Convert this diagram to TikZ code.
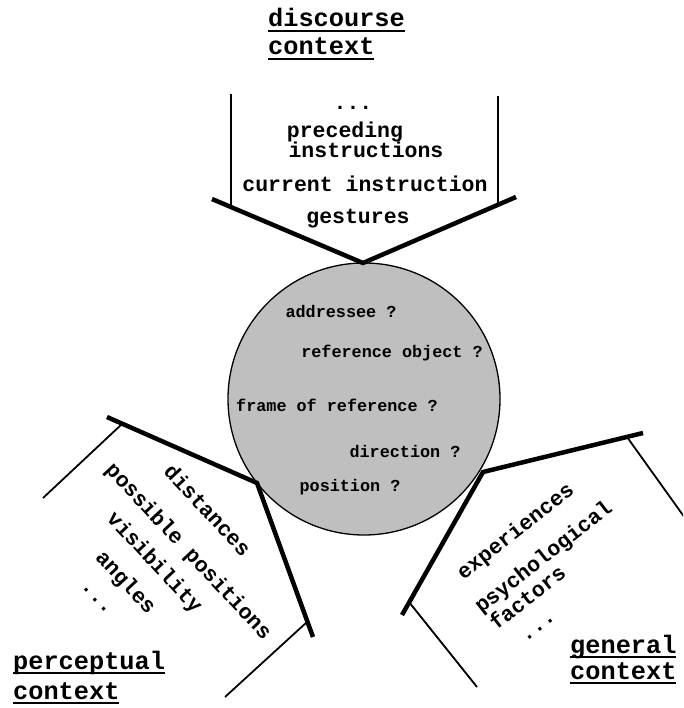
\documentclass[tikz,border=0pt]{standalone}
\usepackage{fontspec}
\setmainfont{Liberation Mono}
\newcommand\ulx[1]{\setbox0=\hbox{#1}\rlap{\vrule height -3pt depth 5pt width \wd0}\box0}
\begin{document}
\begin{tikzpicture}[x=1pt,y=-1pt,
  heavy/.style={line width=4.5pt},
  light/.style={line width=1.8pt},
  item/.style={font=\fontsize{21.5}{21.5}\selectfont\bfseries, inner sep=0pt},
  ask/.style={font=\fontsize{16.8}{16.8}\selectfont\bfseries, inner sep=0pt, anchor=base},
  title/.style={font=\fontsize{25.3}{25.3}\selectfont\bfseries, inner sep=0pt, anchor=base west}]
\useasboundingbox (0,0) rectangle (683,708);
\clip (0,0) rectangle (683,708);

% central circle
\node[circle, draw, line width=1.3pt, fill=black!25, minimum size=272pt, inner sep=0pt] (c) at (364,399) {};
\node[ask] (q1) at (341,317) {addressee ?};
\node[ask] (q2) at (392,357) {reference object ?};
\node[ask] (q3) at (337,411) {frame of reference ?};
\node[ask] (q4) at (405,457) {direction ?};
\node[ask] (q5) at (350,491) {position ?};

% discourse funnel
\coordinate (a1) at (212,199);
\coordinate (v1) at (363,263);
\coordinate (a2) at (516,197);
\coordinate (t1) at (231,94);
\coordinate (t1e) at (231,207);
\coordinate (t2) at (498,96);
\coordinate (t2e) at (498,205);
\draw[heavy] (a1) -- (v1) -- (a2);
\draw[light] (t1) -- (t1e);
\draw[light] (t2) -- (t2e);
\node[item, anchor=base] (d0) at (353,110) {...};
\node[item, anchor=base] (d1) at (345,138) {preceding};
\node[item, anchor=base] (d2) at (366,158) {instructions};
\node[item, anchor=base] (d3) at (365,192) {current instruction};
\node[item, anchor=base] (d4) at (358,224) {gestures};
\node[title] (td1) at (268,27) {\ulx{discourse}};
\node[title] (td2) at (268,55) {\ulx{context}};

% perceptual funnel
\coordinate (b1) at (107,417);
\coordinate (v2) at (257,483);
\coordinate (b2) at (313,637);
\coordinate (p1) at (122,424);
\coordinate (p1e) at (43,498);
\coordinate (p2) at (307,622);
\coordinate (p2e) at (225,697);
\draw[heavy] (b1) -- (v2) -- (b2);
\draw[light] (p1) -- (p1e);
\draw[light] (p2) -- (p2e);
\node[item, rotate=-47] (e1) at (208,510) {distances};
\node[item, rotate=-47] (e2) at (188,552) {possible positions};
\node[item, rotate=-47] (e3) at (154,563) {visibility};
\node[item, rotate=-47] (e4) at (125,583) {angles};
\node[item, rotate=-47] (e5) at (95,600) {...};
\node[title] (tp1) at (13,669) {\ulx{perceptual}};
\node[title] (tp2) at (13,699) {\ulx{context}};

% general funnel
\coordinate (c1) at (643,433);
\coordinate (v3) at (483,472);
\coordinate (c2) at (402,615);
\coordinate (g1) at (627,437);
\coordinate (g1e) at (690,525);
\coordinate (g2) at (409,602);
\coordinate (g2e) at (477,687);
\draw[heavy] (c1) -- (v3) -- (c2);
\draw[light] (g1) -- (g1e);
\draw[light] (g2) -- (g2e);
\node[item, rotate=38] (f1) at (516,532) {experiences};
\node[item, rotate=38] (f2) at (544,558) {psychological};
\node[item, rotate=38] (f3) at (527,597) {factors};
\node[item, rotate=38] (f4) at (540,629) {...};
\node[title] (tg1) at (570,653) {\ulx{general}};
\node[title] (tg2) at (570,679) {\ulx{context}};
\end{tikzpicture}
\end{document}
